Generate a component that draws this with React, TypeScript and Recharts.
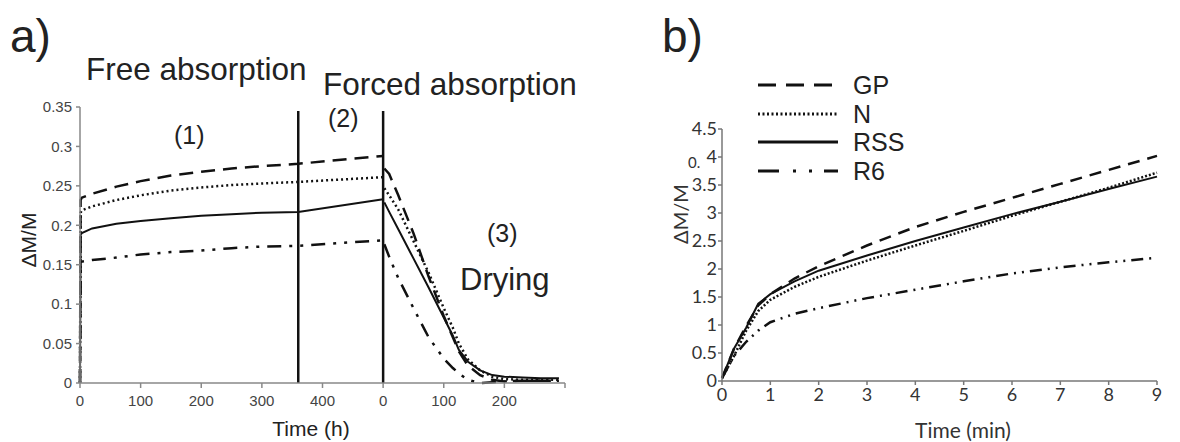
import React from 'react';
import { LineChart, Line, XAxis, YAxis, ReferenceLine, Legend } from 'recharts';

// panel a) -- free + forced absorption (hours 0..500), then drying (axis restarts at 0)
const absorbHours = [0, 1, 3, 20, 60, 100, 150, 200, 250, 300, 360, 500];
const gpAbsorb = [0, 0.232, 0.235, 0.24, 0.249, 0.256, 0.263, 0.268, 0.272, 0.275, 0.278, 0.288];
const nAbsorb = [0, 0.216, 0.219, 0.224, 0.232, 0.238, 0.244, 0.248, 0.251, 0.253, 0.255, 0.261];
const rssAbsorb = [0, 0.188, 0.19, 0.196, 0.202, 0.2055, 0.209, 0.212, 0.214, 0.216, 0.217, 0.233];
const r6Absorb = [0, 0.152, 0.154, 0.156, 0.159, 0.163, 0.166, 0.168, 0.171, 0.173, 0.174, 0.181];

const dryHours = [502, 510, 525, 550, 575, 600, 615, 625, 640, 660, 680, 700, 730, 760, 790];
const gpDry = [0.272, 0.265, 0.238, 0.19, 0.135, 0.085, 0.058, 0.04, 0.022, 0.01, 0.004, 0.002, 0.003, 0.003, 0.003];
const nDry = [0.247, 0.238, 0.22, 0.18, 0.14, 0.095, 0.07, 0.05, 0.03, 0.016, 0.008, 0.005, 0.004, 0.004, 0.004];
const rssDry = [0.229, 0.217, 0.195, 0.158, 0.121, 0.083, 0.06, 0.042, 0.027, 0.016, 0.01, 0.008, 0.007, 0.006, 0.006];
const r6Dry = [0.176, 0.16, 0.133, 0.095, 0.058, 0.031, 0.019, 0.012, 0.004, 0.0, 0.001, 0.002, 0.003, 0.003, 0.003];

const hourTicks = [0, 100, 200, 300, 400, 500, 600, 700, 800];
const hourTickLabels = ['0', '100', '200', '300', '400', '0', '100', '200', ''];
const massTicksA = [0, 0.05, 0.1, 0.15, 0.2, 0.25, 0.3, 0.35];
const phaseBounds = [360, 500];

// panel b) -- first minutes
const minutes = [0, 0.25, 0.5, 0.75, 1, 1.5, 2, 3, 4, 5, 6, 7, 8, 9];
const gpMin = [0.05, 0.58, 0.98, 1.35, 1.55, 1.83, 2.05, 2.42, 2.75, 3.02, 3.27, 3.52, 3.77, 4.02];
const nMin = [0.05, 0.45, 0.9, 1.25, 1.45, 1.68, 1.86, 2.15, 2.42, 2.68, 2.95, 3.2, 3.45, 3.72];
const rssMin = [0.05, 0.58, 0.95, 1.38, 1.55, 1.78, 1.97, 2.24, 2.5, 2.74, 2.98, 3.2, 3.43, 3.65];
const r6Min = [0.05, 0.45, 0.7, 0.9, 1.05, 1.2, 1.3, 1.48, 1.63, 1.78, 1.92, 2.03, 2.12, 2.2];

const minuteTicks = [0, 1, 2, 3, 4, 5, 6, 7, 8, 9];
const massTicksB = [0, 0.5, 1, 1.5, 2, 2.5, 3, 3.5, 4, 4.5];

const seriesNames = ['GP', 'N', 'RSS', 'R6'];

const pts = (xs: number[], ys: number[]) => xs.map((x, i) => ({ x, y: ys[i] }));

const dashA: Record<string, string | undefined> = { GP: '14 8', N: '2 3', RSS: undefined, R6: '14 8 3 8 3 8' };
const dashB: Record<string, string | undefined> = { GP: '12 8', N: '2 2', RSS: undefined, R6: '12 6 2 6 2 6' };
const dashLegend: Record<string, string | undefined> = { GP: '18 10', N: '2 2.5', RSS: undefined, R6: '21 14 3 13 3 12' };

const ARIAL = '"Liberation Sans", Arial, sans-serif';
const CALIBRI = 'Lato, "Open Sans", sans-serif';
const INK = '#111';

// legend keeps the figure's order (GP, N, RSS, R6), not alphabetical
const renderLegend = (props: any) => {
  const items = [...((props.payload || []) as any[])].sort(
    (a, b) => seriesNames.indexOf(a.value) - seriesNames.indexOf(b.value)
  );
  return (
    <div>
      {items.map((it) => (
        <svg key={it.value} width={170} height={28.5} style={{ display: 'block' }}>
          <line x1={0} x2={80} y1={14} y2={14} stroke={INK} strokeWidth={3} strokeDasharray={dashLegend[it.value]} />
          <text x={95} y={23} fontSize={25} fontFamily={ARIAL} fill="#222">{it.value}</text>
        </svg>
      ))}
    </div>
  );
};

export default function App() {
  const absorb = [gpAbsorb, nAbsorb, rssAbsorb, r6Absorb];
  const dry = [gpDry, nDry, rssDry, r6Dry];
  const early = [gpMin, nMin, rssMin, r6Min];

  return (
    <div style={{ position: 'relative', width: 1180, height: 442, background: '#fff', overflow: 'hidden' }}>
      <style>{'body{margin:0}'}</style>

      {/* panel a */}
      <div style={{ position: 'absolute', left: 0, top: 0 }}>
        <LineChart width={600} height={442} margin={{ top: 107, right: 35, bottom: 29, left: 0 }}>
          <XAxis
            type="number"
            dataKey="x"
            domain={[0, 800]}
            ticks={hourTicks}
            interval={0}
            tickFormatter={(v) => hourTickLabels[hourTicks.indexOf(v)]}
            height={30}
            tickSize={5}
            tickMargin={7}
            stroke="#888"
            strokeWidth={1.5}
            tick={{ fill: '#444', fontSize: 15, fontFamily: ARIAL }}
            allowDuplicatedCategory={false}
          />
          <YAxis
            type="number"
            domain={[0, 0.35]}
            ticks={massTicksA}
            interval={0}
            width={80}
            tickSize={4}
            tickMargin={4}
            stroke="#888"
            strokeWidth={1.5}
            tick={{ fill: '#444', fontSize: 15, fontFamily: ARIAL }}
          />
          {phaseBounds.map((h) => (
            <ReferenceLine
              key={h}
              segment={[{ x: h, y: 0 }, { x: h, y: 0.345 }]}
              stroke={INK}
              strokeWidth={2.5}
            />
          ))}
          {seriesNames.map((name, i) => (
            <Line
              key={name + '-abs'}
              data={pts(absorbHours, absorb[i])}
              dataKey="y"
              name={name}
              type="linear"
              stroke={INK}
              strokeWidth={name === 'RSS' ? 2 : 2.5}
              strokeDasharray={dashA[name]}
              dot={false}
              isAnimationActive={false}
            />
          ))}
          {seriesNames.map((name, i) => (
            <Line
              key={name + '-dry'}
              data={pts(dryHours, dry[i])}
              dataKey="y"
              name={name}
              type="linear"
              stroke={INK}
              strokeWidth={name === 'RSS' ? 2 : 2.5}
              strokeDasharray={dashA[name]}
              dot={false}
              isAnimationActive={false}
            />
          ))}
        </LineChart>
      </div>

      {/* panel b */}
      <div style={{ position: 'absolute', left: 600, top: 0 }}>
        <LineChart width={580} height={442} margin={{ top: 129, right: 23, bottom: 31, left: 0 }}>
          <XAxis
            type="number"
            dataKey="x"
            domain={[0, 9]}
            ticks={minuteTicks}
            interval={0}
            height={30}
            tickSize={4}
            tickMargin={3}
            stroke="#777"
            strokeWidth={1.5}
            tick={{ fill: '#333', fontSize: 18, fontFamily: CALIBRI }}
            allowDuplicatedCategory={false}
          />
          <YAxis
            type="number"
            domain={[0, 4.5]}
            ticks={massTicksB}
            interval={0}
            width={122}
            tickSize={4}
            tickMargin={1}
            stroke="#777"
            strokeWidth={1.5}
            tick={{ fill: '#333', fontSize: 18, fontFamily: CALIBRI }}
          />
          <Legend
            layout="vertical"
            align="center"
            verticalAlign="middle"
            content={renderLegend}
            wrapperStyle={{ left: 158, top: 71, width: 170 }}
          />
          {seriesNames.map((name, i) => (
            <Line
              key={name}
              data={pts(minutes, early[i])}
              dataKey="y"
              name={name}
              type="linear"
              stroke={INK}
              strokeWidth={name === 'RSS' ? 2 : 2.5}
              strokeDasharray={dashB[name]}
              dot={false}
              isAnimationActive={false}
            />
          ))}
        </LineChart>
      </div>

      {/* titles and annotations */}
      <svg width={1180} height={442} style={{ position: 'absolute', left: 0, top: 0, pointerEvents: 'none' }}>
        <g fontFamily={ARIAL} fill="#222">
          <text x={10} y={52} fontSize={46}>a)</text>
          <text x={662} y={52} fontSize={46}>b)</text>
          <text x={86} y={80} fontSize={31.5}>Free absorption</text>
          <text x={323} y={95} fontSize={31.5}>Forced absorption</text>
          <text x={174} y={144} fontSize={25}>(1)</text>
          <text x={328} y={127} fontSize={25}>(2)</text>
          <text x={487} y={242} fontSize={25}>(3)</text>
          <text x={460} y={290} fontSize={31}>Drying</text>
          <text x={311} y={436} fontSize={21} textAnchor="middle">Time (h)</text>
          <text x={28} y={240} fontSize={21} textAnchor="middle" dominantBaseline="central" transform="rotate(-90 28 240)">ΔM/M</text>
        </g>
        <g fontFamily={CALIBRI} fill="#333">
          <text x={963} y={438} fontSize={21} textAnchor="middle">Time (min)</text>
          <text x={680} y={214} fontSize={20} textAnchor="middle" dominantBaseline="central" transform="rotate(-90 680 214)">ΔM/M</text>
          <text x={688} y={168} fontSize={15}>0.</text>
        </g>
      </svg>
    </div>
  );
}
